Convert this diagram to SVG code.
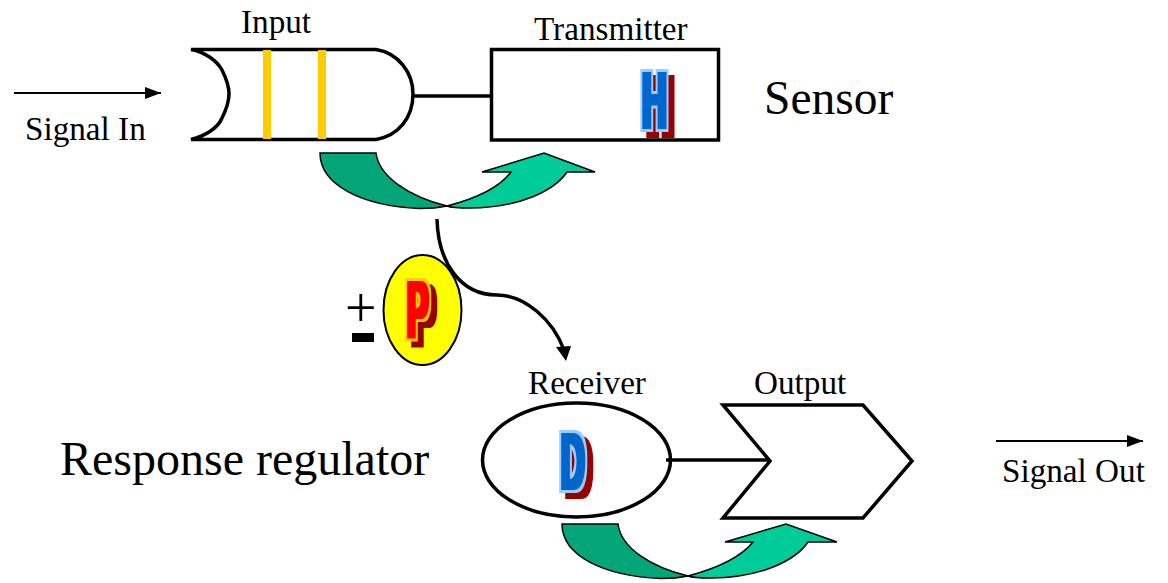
<svg xmlns="http://www.w3.org/2000/svg" width="1168" height="583" viewBox="0 0 1168 583">
<style>
text{font-family:"Liberation Serif","Times New Roman",serif;fill:#000}
.l{font-size:33.200px}
.o{fill:none;stroke:#000;stroke-width:3.5}
.d{fill:#05a57a;stroke:#000;stroke-width:1.5}
.u{fill:#00cc99;stroke:#000;stroke-width:1.5}
.y{fill:#ffcc00}
.t{fill:none;stroke:#000;stroke-width:2}
.g{font-family:"Liberation Sans",Arial,sans-serif;font-weight:bold;font-size:80px}
</style>
<defs>
<marker id="a" markerUnits="userSpaceOnUse" markerWidth="16" markerHeight="12" refX="16" refY="6" orient="auto"><path d="M0 0L16 6L0 12Z" fill="#000"/></marker>
<filter id="blue" x="-60%" y="-30%" width="220%" height="170%" color-interpolation-filters="sRGB">
<feMorphology in="SourceAlpha" operator="dilate" radius="1.5 .5" result="c"/>
<feMorphology in="SourceAlpha" operator="dilate" radius="4 4" result="h"/>
<feFlood flood-color="#990000"/><feComposite in2="h" operator="in"/><feOffset dx="6" dy="6" result="s"/>
<feFlood flood-color="#99ccff"/><feComposite in2="h" operator="in" result="hc"/>
<feFlood flood-color="#0066cc"/><feComposite in2="c" operator="in" result="cc"/>
<feMerge><feMergeNode in="s"/><feMergeNode in="hc"/><feMergeNode in="cc"/></feMerge>
</filter>
<filter id="red" x="-60%" y="-30%" width="220%" height="170%" color-interpolation-filters="sRGB">
<feMorphology in="SourceAlpha" operator="dilate" radius="1.5 .5" result="c"/>
<feMorphology in="SourceAlpha" operator="dilate" radius="4 4" result="h"/>
<feFlood flood-color="#990000"/><feComposite in2="h" operator="in"/><feOffset dx="6" dy="6" result="s"/>
<feFlood flood-color="#ffcc00"/><feComposite in2="h" operator="in" result="hc"/>
<feFlood flood-color="#ff0000"/><feComposite in2="c" operator="in" result="cc"/>
<feMerge><feMergeNode in="s"/><feMergeNode in="hc"/><feMergeNode in="cc"/></feMerge>
</filter>
</defs>
<g id="connectors">
<path class="t" d="M14 93H161" marker-end="url(#a)"/>
<path class="t" d="M996 441H1143" marker-end="url(#a)"/>
<path class="o" d="M414 96H491"/>
<path class="o" d="M666 460H770"/>
<path d="M437 219C438 262 460 295 497 295C525 295 553 320 564 350" fill="none" stroke="#000" stroke-width="3.5"/>
<path d="M556 347L571 346L566 361Z" fill="#000"/>
</g>
<g id="input">
<path class="o" d="M191 49.500H376C398 53 413 72 413 94C413 118 398 136 376 139.500H191C205 136 218 128 222 118C228 106 229 100 229 94C229 88 228 82 222 70C217 61 205 52 191 49.500Z"/>
<rect class="y" x="263" y="50" width="8" height="89"/>
<rect class="y" x="318" y="50" width="8" height="89"/>
<text class="l" x="241" y="33">Input</text>
</g>
<g id="transmitter">
<rect class="o" x="491.500" y="49.500" width="227" height="90.500"/>
<text class="l" x="534" y="40">Transmitter</text>
<g filter="url(#blue)"><text class="g" transform="translate(642 127.500) scale(.43 1)">H</text></g>
</g>
<g id="sensor-phospho">
<path class="d" d="M320 153H376C379 177 410 197 447 206C440 207.500 430 208.500 420 208.500C362 206 320 185 320 153Z"/>
<path class="u" d="M447 206C478 198 500 187 511 172H482L544 153L595 172H567C555 190 520 208 470 208C460 208 452 208 447 206Z"/>
</g>
<g id="phosphate">
<ellipse cx="422.500" cy="310" rx="39" ry="55" fill="#ffff00" stroke="#000" stroke-width="2"/>
<g filter="url(#red)"><text class="g" transform="translate(407 336.500) scale(.4 1)">P</text></g>
<text x="345" y="326.500" style="font-size:56px">+</text>
<rect x="352" y="333" width="22" height="9" fill="#000"/>
</g>
<g id="receiver">
<ellipse class="o" cx="576.500" cy="460" rx="94" ry="57"/>
<text class="l" x="528" y="394">Receiver</text>
<g filter="url(#blue)"><text class="g" transform="translate(561 488.500) scale(.41 1)">D</text></g>
</g>
<g id="output">
<path class="o" d="M723 405H863L912 461L863 518H723L770 461Z"/>
<text class="l" x="754" y="394">Output</text>
</g>
<g id="regulator-phospho">
<path class="d" d="M562 524H618C621 548 651 567 688 576C681 577.500 671 578.500 661 578.500C604 576 562 556 562 524Z"/>
<path class="u" d="M688 576C718 568 741 557 753 542H725L786 524L837 542H808C796 560 761 578 711 578C701 578 693 578 688 576Z"/>
</g>
<text x="764" y="114" style="font-size:47.500px">Sensor</text>
<text x="60" y="475" style="font-size:48px">Response regulator</text>
<text class="l" x="25" y="140">Signal In</text>
<text class="l" x="1002" y="482">Signal Out</text>
</svg>
